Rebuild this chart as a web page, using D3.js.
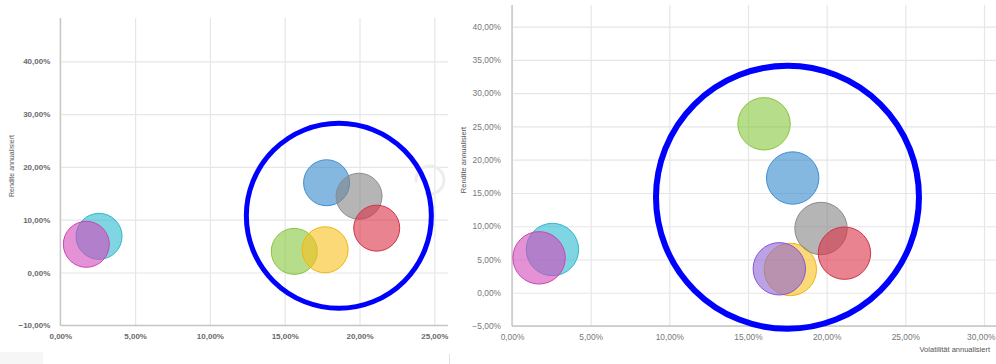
<!DOCTYPE html>
<html><head><meta charset="utf-8">
<script src="https://cdn.jsdelivr.net/npm/d3@7/dist/d3.min.js"></script>
<style>body{margin:0;background:#fff}svg{display:block;font-family:"Liberation Sans",Arial,sans-serif}</style>
</head><body>
<svg id="c" width="996" height="364"></svg>
<script>
// ---- data ----
const seriesKeys = ["cyan","pink","green","yellow","purple","blue","gray","red"];
const fillColors = ["#2ab9cf","#d448bb","#85c63c","#f8c01c","#8e62d5","#3389cb","#848484","#d93044"];
const strokeColors = ["#2fb8cc","#cc44b0","#8cc43f","#f0b70c","#8a55d6","#3f8fd2","#8c8c8c","#d0344a"];
// left chart (no purple series)
const leftVol = [2.59, 1.74, 15.64, 17.70, null, 17.80, 19.97, 21.15];
const leftRet = [6.85, 5.34, 4.00, 4.30, null, 17.00, 14.45, 8.40];
// right chart
const rightVol = [2.57, 1.72, 16.02, 17.69, 16.99, 17.84, 19.64, 21.13];
const rightRet = [6.50, 5.25, 25.40, 3.50, 3.60, 17.25, 9.66, 5.95];
const leftXTicks = [0,5,10,15,20,25];
const leftYTicks = [-10,0,10,20,30,40];
const rightXTicks = [0,5,10,15,20,25,30];
const rightYTicks = [-5,0,5,10,15,20,25,30,35,40];
const yTitle = "Rendite annualisiert";
const xTitle = "Volatilität annualisiert";
// highlight circles (data coords)
const leftHighlight = [18.62, 10.75];
const rightHighlight = [17.51, 14.35];

const loc = d3.formatLocale({decimal:",", thousands:".", grouping:[3], currency:["","€"]});
const f2 = loc.format(".2f");
const pct = d => f2(d) + "%";

const svg = d3.select("#c");

function panel(cfg){
  const g = svg.append("g");
  const x = d3.scaleLinear().domain(cfg.xDom).range(cfg.xRange);
  const y = d3.scaleLinear().domain(cfg.yDom).range(cfg.yRange);
  const bottom = y(cfg.yDom[0]);
  const left = x(cfg.xDom[0]);
  // vertical grid + x labels
  const xa = g.append("g").attr("transform",`translate(0,${bottom})`)
    .call(d3.axisBottom(x).tickValues(cfg.xTicks).tickFormat(pct).tickSize(-(bottom-cfg.top)).tickSizeOuter(0));
  xa.select(".domain").remove();
  xa.selectAll(".tick line").attr("stroke","#e6e6e6").attr("stroke-width",1.2);
  xa.selectAll(".tick text").attr("dy",null).attr("y",cfg.xLabOff).attr("fill",cfg.labCol)
    .attr("font-size",cfg.fs).attr("font-weight",cfg.fw).attr("font-family","'Liberation Sans',Arial,sans-serif");
  // keep last label inside the picture
  if (cfg.clampLast) {
    xa.selectAll(".tick text").filter(d => d === cfg.xTicks[cfg.xTicks.length-1])
      .attr("text-anchor","end").attr("x", 995 - x(cfg.xTicks[cfg.xTicks.length-1]));
  }
  // horizontal grid + y labels
  const ya = g.append("g").attr("transform",`translate(${left},0)`)
    .call(d3.axisLeft(y).tickValues(cfg.yTicks).tickFormat(pct).tickSize(-(cfg.right-left)).tickSizeOuter(0).tickPadding(cfg.yLabPad));
  ya.select(".domain").remove();
  ya.selectAll(".tick line").attr("stroke","#e6e6e6").attr("stroke-width",1.2);
  ya.selectAll(".tick text").attr("fill",cfg.labCol).attr("font-size",cfg.fs).attr("font-weight",cfg.fw)
    .attr("font-family","'Liberation Sans',Arial,sans-serif");
  // axis lines
  g.append("line").attr("x1",left).attr("x2",left).attr("y1",cfg.top).attr("y2",bottom).attr("stroke","#c4c4c4").attr("stroke-width",1.3);
  g.append("line").attr("x1",left).attr("x2",cfg.right).attr("y1",bottom).attr("y2",bottom).attr("stroke","#c4c4c4").attr("stroke-width",1.3);
  // optional decoration under the marks
  if (cfg.under) cfg.under(g);
  // bubbles
  const idx = d3.range(seriesKeys.length).filter(i => cfg.vol[i] != null);
  g.append("g").selectAll("circle").data(idx).join("circle")
    .attr("cx", i => x(cfg.vol[i])).attr("cy", i => y(cfg.ret[i])).attr("r", cfg.r)
    .attr("fill", i => fillColors[i]).attr("fill-opacity",0.6)
    .attr("stroke", i => strokeColors[i]).attr("stroke-width",1);
  // highlight
  g.append("circle").attr("cx",x(cfg.hl[0])).attr("cy",y(cfg.hl[1])).attr("r",cfg.hlR)
    .attr("fill","none").attr("stroke","#0000ff").attr("stroke-width",cfg.hlW);
  // y title
  g.append("text").attr("transform",`translate(${cfg.yTitleX},${cfg.yTitleY}) rotate(-90)`)
    .attr("text-anchor","middle").attr("font-size",cfg.tfs).attr("fill","#555").text(yTitle);
  return {g,x,y};
}

const L = panel({xDom:[0,25], xRange:[60.3,434.3], yDom:[-10,40], yRange:[325.3,61.3],
  top:18, right:448, xTicks:leftXTicks, yTicks:leftYTicks, vol:leftVol, ret:leftRet, r:23,
  xLabOff:13.3, yLabPad:10, labCol:"#6a6a6a", fs:8, fw:"bold", hl:leftHighlight, hlR:92.5, hlW:5,
  yTitleX:13.5, yTitleY:166, tfs:7,
  under: g => g.append("path").attr("transform","translate(430,180)")
    .attr("d", d3.arc().innerRadius(12.5).outerRadius(15.5).startAngle(-100*Math.PI/180).endAngle(200*Math.PI/180)())
    .attr("fill","#ededed")});

const R = panel({xDom:[0,30], xRange:[512,984], yDom:[-5,40], yRange:[326,26.7],
  top:5, right:996, xTicks:rightXTicks, yTicks:rightYTicks, vol:rightVol, ret:rightRet, r:26.2,
  xLabOff:13.7, yLabPad:11, labCol:"#777", fs:8.4, fw:"normal", hl:rightHighlight, hlR:131.5, hlW:6,
  yTitleX:466, yTitleY:160, tfs:7.5, clampLast:true});

R.g.append("text").attr("x",990).attr("y",352).attr("text-anchor","end").attr("font-size",7.5)
  .attr("fill","#555").text(xTitle);

// small grey block bottom-left and panel divider
svg.append("rect").attr("x",0).attr("y",352).attr("width",43).attr("height",12).attr("fill","#f6f6f6");
svg.append("line").attr("x1",449.5).attr("x2",449.5).attr("y1",354).attr("y2",364).attr("stroke","#e0e0e0");
</script>
</body></html>
